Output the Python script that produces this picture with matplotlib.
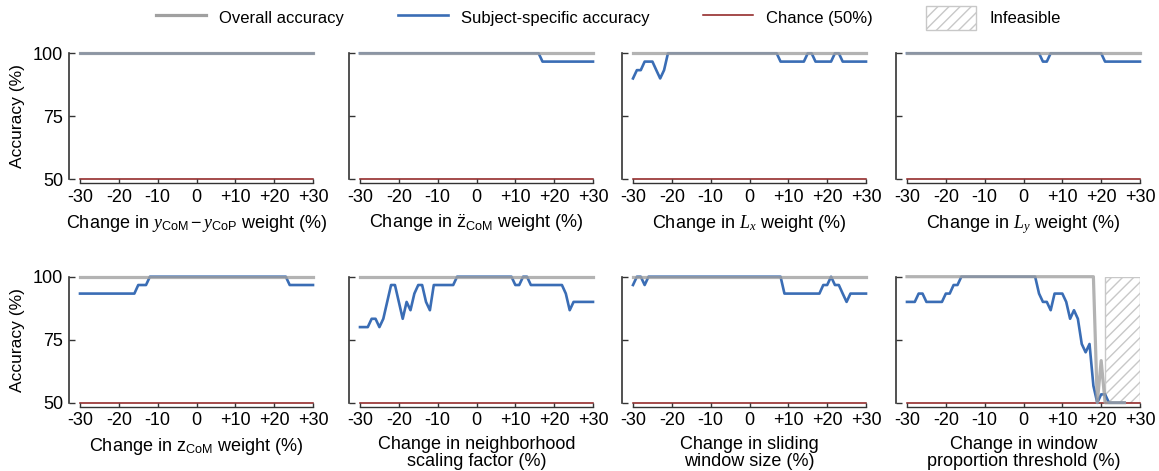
import numpy as np
import matplotlib
matplotlib.use('Agg')
import matplotlib.pyplot as plt
from matplotlib.lines import Line2D
from matplotlib.patches import Patch, Rectangle

plt.rcParams['font.family'] = ['Liberation Sans', 'DejaVu Sans']
plt.rcParams['mathtext.fontset'] = 'custom'
plt.rcParams['mathtext.rm'] = 'Liberation Sans'
plt.rcParams['mathtext.it'] = 'Liberation Serif:italic'
plt.rcParams['mathtext.bf'] = 'Liberation Sans:bold'
plt.rcParams['hatch.linewidth'] = 1.0

# change in parameter (%), one value per integer step
change = np.arange(-30, 31)

labels = [
    r'Change in $y_{\mathrm{CoM}} - y_{\mathrm{CoP}}$ weight (%)',
    r'Change in $\ddot{\mathrm{z}}_{\mathrm{CoM}}$ weight (%)',
    r'Change in $L_x$ weight (%)',
    r'Change in $L_y$ weight (%)',
    r'Change in $\mathrm{z}_{\mathrm{CoM}}$ weight (%)',
    'Change in neighborhood\nscaling factor (%)',
    'Change in sliding\nwindow size (%)',
    'Change in window\nproportion threshold (%)',
]

nan = np.nan

# overall accuracy (%)
overall_flat = [100] * 61
overall_threshold = [100] * 49 + [50, 66.7] + [50] * 6 + [nan] * 4

# subject-specific accuracy (%)
subj_ycop = [100] * 61
subj_zdd = [100] * 47 + [96.7] * 14
subj_lx = ([90, 93.3, 93.3, 96.7, 96.7, 96.7, 93.3, 90, 93.3]
           + [100] * 29 + [96.7] * 7 + [100] * 2 + [96.7] * 5
           + [100] * 2 + [96.7] * 7)
subj_ly = [100] * 35 + [96.7] * 2 + [100] * 14 + [96.7] * 10
subj_zcom = [93.3] * 15 + [96.7] * 3 + [100] * 36 + [96.7] * 7
subj_neigh = ([80, 80, 80, 83.3, 83.3, 80, 83.3, 90, 96.7, 96.7,
               90, 83.3, 90, 86.7, 93.3, 96.7, 96.7, 90, 86.7, 96.7,
               96.7, 96.7, 96.7, 96.7, 96.7]
              + [100] * 15 + [96.7, 96.7, 100, 100] + [96.7] * 9
              + [93.3, 86.7] + [90] * 6)
subj_window = ([96.7, 100, 100, 96.7] + [100] * 35 + [93.3] * 10
               + [96.7, 96.7, 100, 96.7, 96.7, 93.3, 90] + [93.3] * 5)
subj_threshold = ([90, 90, 90, 93.3, 93.3, 90, 90, 90, 90, 90,
                   93.3, 93.3, 96.7, 96.7] + [100] * 20
                  + [93.3, 90, 90, 86.7, 93.3, 93.3, 93.3, 90, 83.3, 86.7,
                     83.3, 73.3, 70, 73.3, 56.7, 50, 53.3, 53.3, 50, 50,
                     50, 50, 50] + [nan] * 4)

overall = [overall_flat] * 7 + [overall_threshold]
subject = [subj_ycop, subj_zdd, subj_lx, subj_ly,
           subj_zcom, subj_neigh, subj_window, subj_threshold]

chance = 50
infeasible_start, infeasible_end = 21, 30

c_overall = '#a0a0a0'
c_subject = '#3a6db5'
c_chance = '#8b1a1a'
c_hatch = '#c8c8c8'

W, H = 1159, 471
fig = plt.figure(figsize=(W / 100, H / 100), dpi=100)

col_left = [80, 360, 633, 907]
col_w = 233
rows = [(53.3, 179), (276.7, 402.7)]

for i in range(8):
    r, c = divmod(i, 4)
    top, bot = rows[r]
    ax = fig.add_axes([col_left[c] / W, 1 - bot / H, col_w / W, (bot - top) / H])
    ax.plot(change, [chance] * len(change), color=c_chance, lw=1.1, zorder=1, clip_on=False)
    ax.plot(change, subject[i], color=c_subject, lw=1.9, zorder=2, clip_on=False)
    ax.plot(change, overall[i], color=c_overall, lw=2.3, alpha=0.8, zorder=3, clip_on=False)
    if i == 7:
        ax.add_patch(Rectangle((infeasible_start, 50), infeasible_end - infeasible_start, 50,
                               facecolor='none', edgecolor=c_hatch, hatch='///', lw=1, zorder=0))
    ax.set_xlim(-30, 30)
    ax.set_ylim(50, 100)
    ax.set_xticks([-30, -20, -10, 0, 10, 20, 30])
    ax.set_xticklabels(['-30', '-20', '-10', '0', '+10', '+20', '+30'])
    ax.set_yticks([50, 75, 100])
    for s in ['top', 'right']:
        ax.spines[s].set_visible(False)
    ax.spines['left'].set_position(('outward', 8))
    ax.spines['bottom'].set_position(('outward', 3))
    ax.spines['left'].set_color('#333333')
    ax.spines['bottom'].set_color('#333333')
    ax.spines['left'].set_linewidth(1.2)
    ax.spines['bottom'].set_linewidth(1.0)
    ax.tick_params(axis='y', direction='in', length=4, width=1, color='#333333', labelsize=13, pad=4)
    ax.tick_params(axis='x', direction='in', length=3, width=1, color='#333333', labelsize=13, pad=4)
    ax.set_xlabel(labels[i], fontsize=13, labelpad=5, linespacing=1.0)
    if c == 0:
        ax.set_ylabel('Accuracy (%)', fontsize=12.5, labelpad=6)
    else:
        ax.set_yticklabels([])

handles = [
    Line2D([], [], color=c_overall, lw=2.3),
    Line2D([], [], color=c_subject, lw=1.9),
    Line2D([], [], color=c_chance, lw=1.1),
    Patch(facecolor='white', edgecolor=c_hatch, hatch='///'),
]
fig.legend(handles, ['Overall accuracy', 'Subject-specific accuracy', 'Chance (50%)', 'Infeasible'],
           loc='center', bbox_to_anchor=(0.525, 0.962), ncol=4, frameon=False, fontsize=12,
           handlelength=3, handleheight=1.8, handletextpad=0.8, columnspacing=3.2)

fig.savefig('out.png', dpi=100)
